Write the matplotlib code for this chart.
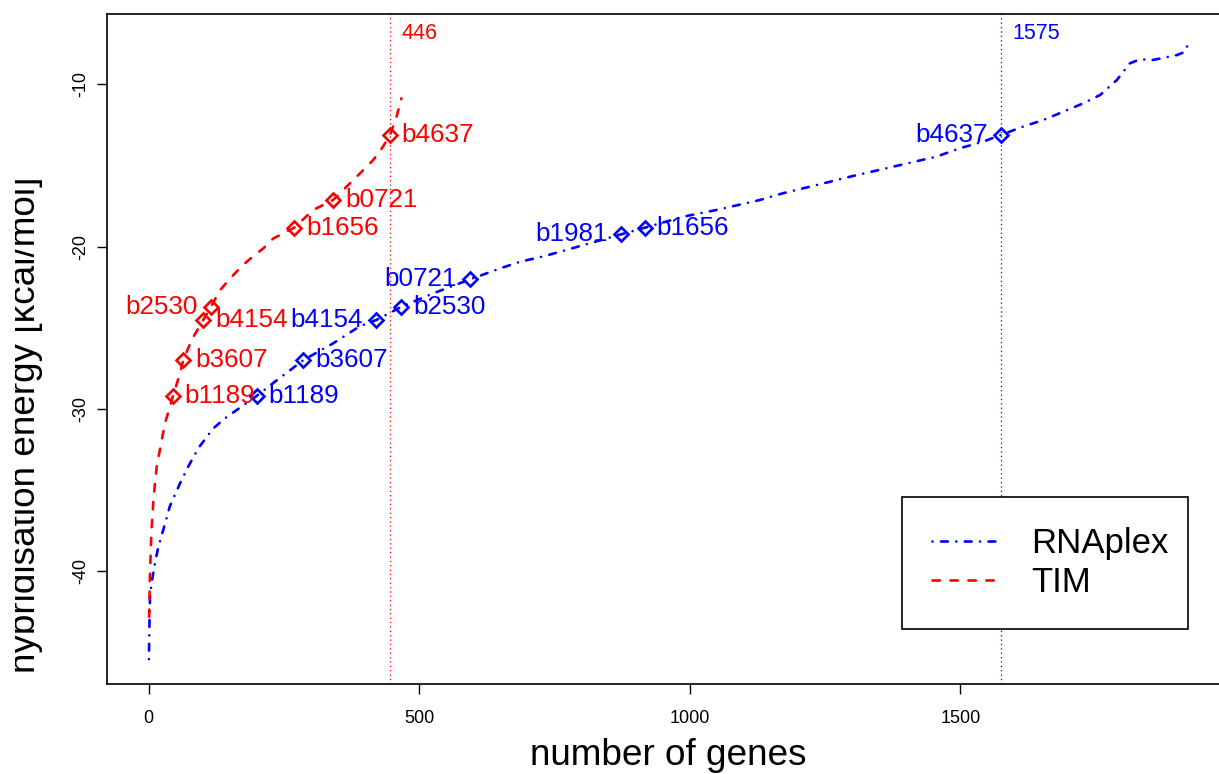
import matplotlib
matplotlib.use("Agg")
import matplotlib.pyplot as plt
from matplotlib.transforms import Bbox, TransformedBbox

plt.rcParams['font.family'] = ['Liberation Sans', 'DejaVu Sans']
plt.rcParams['axes.unicode_minus'] = False

# sorted hybridisation energies
tim_x = [1, 2, 5, 9, 15, 22, 30, 45, 58, 64, 80, 101, 115, 132, 155, 175, 193, 212, 230, 269,
         304, 341, 390, 415, 433, 446, 458, 467]
tim_y = [-42.8, -40.7, -37.6, -35.5, -33.5, -32.3, -30.9, -29.19, -27.8, -26.98, -25.7,
         -24.51, -23.7, -22.67, -21.8, -21.1, -20.6, -20.1, -19.5, -18.83, -17.74, -17.12,
         -15.5, -14.66, -13.84, -13.12, -12.0, -10.86]

rnaplex_x = [0.5, 1.5, 2.5, 5.5, 11.6, 17.8, 27, 39, 58, 73, 92, 119, 140, 163, 199.5, 230,
             286, 341, 390, 421, 467, 526, 594, 650, 687, 729, 772, 815, 873, 917, 988,
             1049, 1130, 1172, 1210, 1259, 1296, 1376, 1456, 1499, 1542, 1575, 1616,
             1653, 1690, 1727, 1758, 1789, 1813, 1832, 1856, 1900, 1915, 1921, 1923]
rnaplex_y = [-45.4, -43.2, -41.55, -40.7, -39.5, -38.5, -37.44, -36.0, -34.57, -33.55,
             -32.4, -31.2, -30.6, -30.05, -29.19, -28.4, -26.98, -25.95, -24.9, -24.51, -23.7,
             -22.87, -22.01, -21.33, -20.92, -20.6, -20.2, -19.79, -19.24, -18.83,
             -18.15, -17.74, -17.12, -16.71, -16.4, -16.0, -15.69, -15.07, -14.45,
             -13.94, -13.53, -13.12, -12.6, -12.2, -11.69, -11.17, -10.66, -9.74,
             -8.71, -8.46, -8.5, -8.2, -8.0, -7.48, -7.23]

# highlighted genes: name, rank, energy, label side
tim_genes = ['b4637', 'b0721', 'b1656', 'b2530', 'b4154', 'b3607', 'b1189']
tim_gene_x = [446, 341, 269, 115, 101, 64, 45]
tim_gene_y = [-13.12, -17.12, -18.83, -23.7, -24.51, -26.98, -29.19]
tim_side = ['r', 'r', 'r', 'l', 'r', 'r', 'r']

rna_genes = ['b4637', 'b1656', 'b1981', 'b0721', 'b2530', 'b4154', 'b3607', 'b1189']
rna_gene_x = [1575, 917, 873, 594, 467, 421, 286, 199.5]
rna_gene_y = [-13.12, -18.83, -19.24, -22.01, -23.7, -24.51, -26.98, -29.19]
rna_side = ['l', 'r', 'l', 'l', 'r', 'l', 'r', 'r']

tim_cut = 446
rna_cut = 1575

fig = plt.figure(figsize=(12.19, 7.74), dpi=100)
ax = fig.add_axes([0.0875, 0.1163, 0.921, 0.8656])

ax.plot(rnaplex_x, rnaplex_y, color='blue', lw=1.9, dashes=(0.01, 3.2, 2.6, 3.2),
        dash_capstyle='round', label='RNAplex')
ax.plot(tim_x, tim_y, color='red', lw=1.9, dashes=(2.8, 4.0),
        dash_capstyle='round', label='TIM')

ax.axvline(tim_cut, color='red', lw=0.9, ls=(0, (1, 2.5)))
ax.axvline(rna_cut, color='blue', lw=0.9, ls=(0, (1, 2.5)))
ax.annotate(str(tim_cut), (tim_cut, -6.84), xytext=(8, 0), textcoords='offset points',
            ha='left', va='center', color='red', fontsize=15.5)
ax.annotate(str(rna_cut), (rna_cut, -6.84), xytext=(8.5, 0), textcoords='offset points',
            ha='left', va='center', color='blue', fontsize=15.5)

for genes, gx, gy, side, col in [(tim_genes, tim_gene_x, tim_gene_y, tim_side, 'red'),
                                  (rna_genes, rna_gene_x, rna_gene_y, rna_side, 'blue')]:
    ax.plot(gx, gy, ls='none', marker='D', ms=7.5, mfc='none', mec=col, mew=1.9)
    for name, x, y, s in zip(genes, gx, gy, side):
        off = 8.5 if s == 'r' else -9.5
        ax.annotate(name, (x, y), xytext=(off, 0), textcoords='offset points',
                    ha='left' if s == 'r' else 'right', va='center', color=col, fontsize=18.7)

ax.set_xlim(-77.6, 1997)
ax.set_ylim(-46.93, -5.67)
ax.set_xticks([0, 500, 1000, 1500])
ax.set_yticks([-40, -30, -20, -10])
ax.tick_params(direction='out', length=7.5, width=1, labelsize=13)
ax.tick_params(axis='x', pad=11)
ax.tick_params(axis='y', pad=5)
for lbl in ax.get_yticklabels():
    lbl.set_rotation(90)
    lbl.set_va('center')
ax.spines['right'].set_visible(False)
for s in ['left', 'bottom', 'top']:
    ax.spines[s].set_linewidth(1.2)

leg = ax.legend(loc='upper left', bbox_to_anchor=(0.7085, 0.087, 0.2547, 0.1926),
                mode='expand', borderaxespad=0,
                fontsize=25, handlelength=1.93, handletextpad=0.92, labelspacing=0.17,
                borderpad=0.87, fancybox=False, edgecolor='black', framealpha=1)
leg.get_frame().set_linewidth(1.2)

fig.text(668 / 1219, 9 / 774, 'number of genes', ha='center', va='baseline', fontsize=26.6)
yl = fig.text(35 / 1219, 349 / 774, 'hybridisation energy [kcal/mol]', rotation=90,
              rotation_mode='anchor', ha='center', va='baseline', fontsize=26.6)
yl.set_clip_box(TransformedBbox(Bbox([[15 / 1219, 0], [1, 1]]), fig.transFigure))
yl.set_clip_on(True)

fig.savefig('out.png', dpi=100)
